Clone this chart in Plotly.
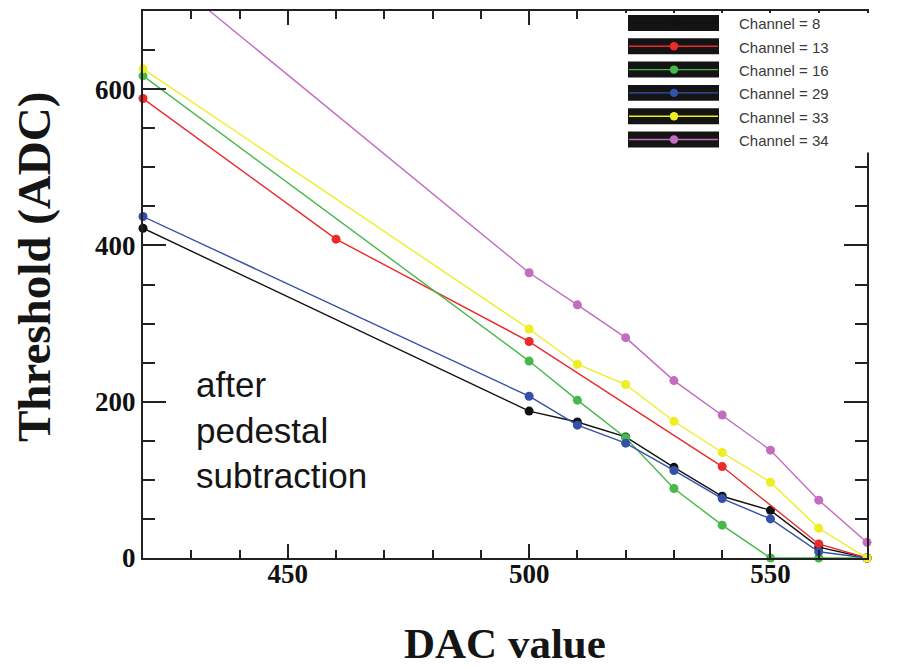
import plotly.graph_objects as go

# DAC settings scanned
dac_common = [420, 500, 510, 520, 530, 540, 550, 560, 570]
dac_ch13 = [420, 460, 500, 540, 560, 570]

# Threshold (ADC counts) after pedestal subtraction
thr_ch8 = [422, 188, 174, 155, 116, 79, 61, 14, 0]
thr_ch13 = [588, 408, 277, 117, 18, 0]
thr_ch16 = [617, 252, 202, 154, 89, 42, 0, 0, 0]
thr_ch29 = [437, 207, 170, 147, 112, 76, 50, 8, 0]
thr_ch33 = [626, 293, 248, 222, 175, 135, 97, 38, 0]
thr_ch34 = [770, 365, 324, 282, 227, 183, 138, 74, 20]

channel_labels = ["Channel = 8", "Channel = 13", "Channel = 16",
                  "Channel = 29", "Channel = 33", "Channel = 34"]
channel_colors = ["#111111", "#ec2a2a", "#46b94a", "#3550a8", "#eeee22", "#c46cc0"]

series = [
    (dac_common, thr_ch8),
    (dac_ch13, thr_ch13),
    (dac_common, thr_ch16),
    (dac_common, thr_ch29),
    (dac_common, thr_ch33),
    (dac_common, thr_ch34),
]

W, H = 912, 667
ML, MR, MT, MB = 143, 45, 9, 109
PW, PH = W - ML - MR, H - MT - MB


def px(x):
    return (x - ML) / PW


def py(y):
    return (H - MB - y) / PH


fig = go.Figure()
for (xs, ys), name, col in zip(series, channel_labels, channel_colors):
    fig.add_trace(go.Scatter(
        x=xs, y=ys, name=name, mode="lines+markers",
        line=dict(color=col, width=1.4),
        marker=dict(color=col, size=9),
        cliponaxis=False,
        showlegend=False,
    ))

axis_font = dict(family="Liberation Serif", size=27, color="#111", weight="bold")
common_axis = dict(
    showline=True, linecolor="#222", linewidth=2, mirror="allticks",
    ticks="inside", tickcolor="#222", tickwidth=1.5,
    showgrid=False, zeroline=False, tickfont=axis_font,
)

fig.update_xaxes(range=[420, 570], tick0=450, dtick=50, ticklen=14,
                 ticklabelstandoff=-9,
                 minor=dict(dtick=10, ticks="inside", ticklen=8,
                            tickcolor="#222", tickwidth=1.5),
                 **common_axis)
fig.update_yaxes(range=[0, 700], tick0=0, dtick=200, ticklen=23,
                 minor=dict(dtick=50, ticks="inside", ticklen=12,
                            tickcolor="#222", tickwidth=1.5),
                 **common_axis)

shapes = []
annotations = []

# white panel behind the key (hides the right frame there)
shapes.append(dict(type="rect", xref="paper", yref="paper", layer="above",
                   x0=px(612), x1=px(880), y0=py(151), y1=py(11),
                   fillcolor="white", line=dict(width=0)))

row0, pitch = 21, 23.4
for i, (name, col) in enumerate(zip(channel_labels, channel_colors)):
    cy = row0 + pitch * i
    shapes.append(dict(type="rect", xref="paper", yref="paper", layer="above",
                       x0=px(628), x1=px(719), y0=py(cy + 8), y1=py(cy - 8),
                       fillcolor="#141414", line=dict(width=0)))
    shapes.append(dict(type="line", xref="paper", yref="paper", layer="above",
                       x0=px(629), x1=px(718), y0=py(cy), y1=py(cy),
                       line=dict(color=col, width=1.4)))
    shapes.append(dict(type="circle", xref="paper", yref="paper", layer="above",
                       xsizemode="pixel", ysizemode="pixel",
                       xanchor=px(674), yanchor=py(cy),
                       x0=-4.2, x1=4.2, y0=-4.2, y1=4.2,
                       fillcolor=col, line=dict(width=0)))
    annotations.append(dict(text=name, xref="paper", yref="paper",
                            x=px(737), y=py(cy + 1), xanchor="left", yanchor="middle",
                            showarrow=False,
                            font=dict(family="Liberation Sans", size=15, color="#3a3a3a")))

annotations.append(dict(text="after<br>pedestal<br>subtraction", xref="paper", yref="paper",
                        x=px(194), y=py(362), xanchor="left", yanchor="top", align="left",
                        showarrow=False,
                        font=dict(family="Liberation Sans", size=35, color="#151515")))

annotations.append(dict(text="DAC value", xref="paper", yref="paper",
                        x=px(505), y=py(644), xanchor="center", yanchor="middle",
                        showarrow=False,
                        font=dict(family="Liberation Serif", size=43, color="#151515",
                                  weight="bold")))
annotations.append(dict(text="Threshold (ADC)", xref="paper", yref="paper",
                        x=px(34), y=py(266), xanchor="center", yanchor="middle",
                        textangle=-90, showarrow=False,
                        font=dict(family="Liberation Serif", size=47, color="#151515",
                                  weight="bold")))

fig.update_layout(
    width=W, height=H,
    margin=dict(l=ML, r=MR, t=MT, b=MB),
    paper_bgcolor="white", plot_bgcolor="white",
    shapes=shapes, annotations=annotations,
    showlegend=False,
)

fig.write_html("out.html")
